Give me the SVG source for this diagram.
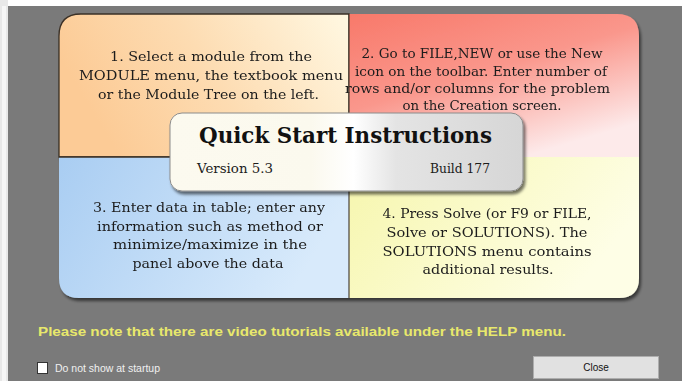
<svg xmlns="http://www.w3.org/2000/svg" width="682" height="381" viewBox="0 0 682 381">
  <defs>
    <style>
      .step { font-family: "DejaVu Serif", "Liberation Serif", serif; font-size: 13.5px; fill: #1c1c1c; text-anchor: middle; }
      .small { font-size: 13px; }
      .title { font-family: "DejaVu Serif", "Liberation Serif", serif; font-weight: bold; font-size: 21.5px; fill: #111; }
      .ver { font-family: "DejaVu Serif", "Liberation Serif", serif; font-size: 13px; fill: #1c1c1c; }
      .ui { font-family: "Liberation Sans", Arial, sans-serif; }
      .hl { fill: none; stroke: #ffffff; stroke-opacity: 0.4; stroke-width: 3; filter: url(#soft); }
    </style>
    <linearGradient id="g1" x1="0" y1="0.3" x2="1" y2="0">
      <stop offset="0" stop-color="#fccb96"/>
      <stop offset="0.45" stop-color="#fddcb2"/>
      <stop offset="1" stop-color="#fff8e2"/>
    </linearGradient>
    <linearGradient id="g2" x1="0" y1="0" x2="0.6" y2="1">
      <stop offset="0" stop-color="#f8796a"/>
      <stop offset="0.5" stop-color="#fa978c"/>
      <stop offset="1" stop-color="#fdeaea"/>
    </linearGradient>
    <linearGradient id="g3" x1="0" y1="0" x2="1" y2="0.3">
      <stop offset="0" stop-color="#a9cdf2"/>
      <stop offset="1" stop-color="#d8eafb"/>
    </linearGradient>
    <linearGradient id="g4" x1="0" y1="0" x2="1" y2="0.4">
      <stop offset="0" stop-color="#f6f6ac"/>
      <stop offset="1" stop-color="#fefee6"/>
    </linearGradient>
    <linearGradient id="gp" x1="0" y1="0" x2="1" y2="0">
      <stop offset="0" stop-color="#fcfaef"/>
      <stop offset="0.4" stop-color="#fbf9ee"/>
      <stop offset="0.52" stop-color="#ffffff"/>
      <stop offset="0.64" stop-color="#e4e4e4"/>
      <stop offset="1" stop-color="#d6d6d6"/>
    </linearGradient>
    <filter id="shadow" x="-10%" y="-10%" width="120%" height="125%">
      <feDropShadow dx="2" dy="3" stdDeviation="1.6" flood-color="#000" flood-opacity="0.55"/>
    </filter>
    <filter id="soft" x="-5%" y="-200%" width="110%" height="500%">
      <feGaussianBlur stdDeviation="1"/>
    </filter>
  </defs>

  <!-- window background -->
  <rect x="0" y="0" width="682" height="381" fill="#7a7a7a"/>
  <rect x="0" y="0" width="682" height="6" fill="#ffffff"/>
  <rect x="0" y="0" width="8" height="381" fill="#e8e8e8"/>
  <rect x="2" y="6" width="4" height="375" fill="#f6f6f6"/>

  <!-- four step tiles -->
  <g filter="url(#shadow)">
    <g id="step1">
      <path d="M59,36 Q59,14 81,14 L349,14 L349,157 L59,157 Z" fill="url(#g1)" stroke="#3b3026" stroke-width="1.3"/>
      <text class="step" x="211" y="61" textLength="202" lengthAdjust="spacingAndGlyphs">1. Select a module from the</text>
      <text class="step" x="211" y="80" textLength="264" lengthAdjust="spacingAndGlyphs">MODULE menu, the textbook menu</text>
      <text class="step" x="208.5" y="99" textLength="221" lengthAdjust="spacingAndGlyphs">or the Module Tree on the left.</text>
    </g>
    <g id="step2">
      <path d="M349,14 L617,14 Q639,14 639,36 L639,157 L349,157 Z" fill="url(#g2)"/>
      <path class="hl" d="M362,19 L615,19"/>
      <text class="step small" x="482" y="58" textLength="241" lengthAdjust="spacingAndGlyphs">2. Go to FILE,NEW or use the New</text>
      <text class="step small" x="481" y="76" textLength="252" lengthAdjust="spacingAndGlyphs">icon on the toolbar. Enter number of</text>
      <text class="step small" x="477.5" y="93" textLength="265" lengthAdjust="spacingAndGlyphs">rows and/or columns for the problem</text>
      <text class="step small" x="482" y="110" textLength="159" lengthAdjust="spacingAndGlyphs">on the Creation screen.</text>
    </g>
    <g id="step3">
      <path d="M59,157 L349,157 L349,298 L79,298 Q59,298 59,278 Z" fill="url(#g3)"/>
      <path class="hl" d="M64,161 L345,161"/>
      <path d="M59,157 L349,157" stroke="#3b3026" stroke-width="1.3"/>
      <text class="step" x="209" y="212" textLength="232" lengthAdjust="spacingAndGlyphs">3. Enter data in table; enter any</text>
      <text class="step" x="210" y="231" textLength="226" lengthAdjust="spacingAndGlyphs">information such as method or</text>
      <text class="step" x="210" y="249" textLength="194" lengthAdjust="spacingAndGlyphs">minimize/maximize in the</text>
      <text class="step" x="208" y="268" textLength="151" lengthAdjust="spacingAndGlyphs">panel above the data</text>
    </g>
    <g id="step4">
      <path d="M349,157 L639,157 L639,278 Q639,298 619,298 L349,298 Z" fill="url(#g4)"/>
      <path class="hl" d="M353,161 L634,161"/>
      <path d="M349,14 L349,298" stroke="#3b3026" stroke-width="1.1"/>
      <text class="step" x="487" y="218" textLength="209" lengthAdjust="spacingAndGlyphs">4. Press Solve (or F9 or FILE,</text>
      <text class="step" x="487" y="237" textLength="201" lengthAdjust="spacingAndGlyphs">Solve or SOLUTIONS). The</text>
      <text class="step" x="487" y="256" textLength="209" lengthAdjust="spacingAndGlyphs">SOLUTIONS menu contains</text>
      <text class="step" x="488" y="274" textLength="131" lengthAdjust="spacingAndGlyphs">additional results.</text>
    </g>
  </g>

  <!-- title panel over the tiles -->
  <g id="title-panel">
    <rect x="170" y="113" width="353" height="78" rx="12" fill="url(#gp)" stroke="#8c8c8c" stroke-width="1" filter="url(#shadow)"/>
    <text class="title" x="199" y="143" textLength="293" lengthAdjust="spacingAndGlyphs">Quick Start Instructions</text>
    <text class="ver" x="197" y="173" textLength="76" lengthAdjust="spacingAndGlyphs">Version 5.3</text>
    <text class="ver" x="490" y="173" text-anchor="end" textLength="60" lengthAdjust="spacingAndGlyphs">Build 177</text>
  </g>

  <g id="connectors"/>

  <!-- footer -->
  <g id="note">
    <text class="ui" x="38" y="336" font-size="12" font-weight="bold" fill="#e8e86c" textLength="528" lengthAdjust="spacingAndGlyphs">Please note that there are video tutorials available under the HELP menu.</text>
  </g>
  <g id="startup-option">
    <rect x="37.5" y="362.5" width="10" height="11" fill="#ffffff" stroke="#333" stroke-width="1"/>
    <text class="ui" x="55" y="372" font-size="10" fill="#f0f0f0" textLength="105" lengthAdjust="spacingAndGlyphs">Do not show at startup</text>
  </g>
  <g id="close-button">
    <rect x="533.5" y="356.5" width="125" height="22" fill="#e1e1e1" stroke="#adadad" stroke-width="1"/>
    <text class="ui" x="596" y="371" font-size="10" fill="#111" text-anchor="middle">Close</text>
  </g>
</svg>
